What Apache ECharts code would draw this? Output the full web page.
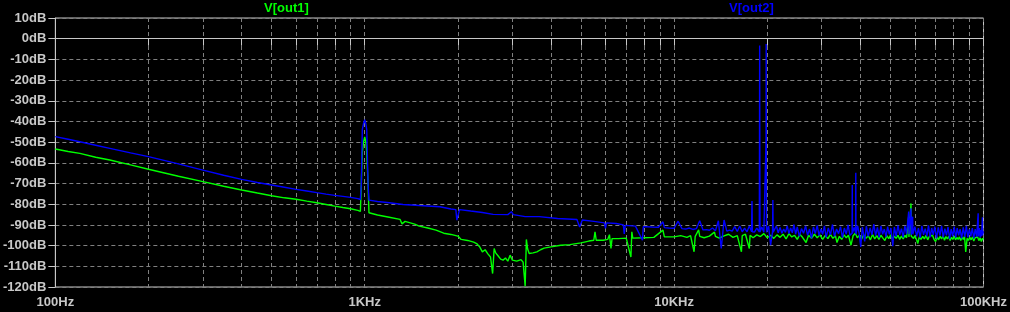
<!DOCTYPE html>
<html><head><meta charset="utf-8">
<script src="https://cdn.jsdelivr.net/npm/echarts@6/dist/echarts.min.js"></script>
<style>html,body{margin:0;padding:0;background:#000;}#c{width:1010px;height:312px;}</style>
</head><body><div id="c"></div>
<script>
const seriesNames = ['V[out1]', 'V[out2]'];
const xTickValues = [100, 1000, 10000, 100000];
const xTickLabels = ['100Hz', '1KHz', '10KHz', '100KHz'];
const xGridValues = [100,200,300,400,500,600,700,800,900,1000,2000,3000,4000,5000,6000,7000,8000,9000,10000,20000,30000,40000,50000,60000,70000,80000,90000,100000];

// V[out1] (green), 100 Hz .. 9.3 kHz
const freqOut1Low = [100,110,120,135,150,175,200,250,300,350,400,450,500,550,600,650,700,750,800,850,900,950,968,975,982,991,1000,1008,1015,1025,1032,1100,1200,1300,1320,1350,1450,1500,1600,1700,1800,1900,2000,2050,2150,2250,2300,2350,2400,2450,2500,2550,2590,2620,2650,2700,2750,2800,2850,2900,2950,3000,3100,3200,3250,3280,3300,3330,3360,3400,3500,3600,3700,3800,4000,4300,4600,5000,5300,5500,5550,5600,5900,6100,6180,6250,6300,6600,7000,7250,7300,7350,8000,8600,9200,9300];
const dbOut1Low = [-53.3,-54.5,-55.4,-57.3,-58.6,-61,-63.1,-66.5,-69.1,-71.3,-73.1,-74.6,-75.9,-76.9,-77.6,-78.5,-79.3,-80.1,-80.9,-81.6,-82.2,-83,-83.5,-70,-55,-50,-47.5,-50,-55,-70,-84.1,-85.2,-86.3,-87.3,-89.5,-88.3,-89.6,-90.6,-91.5,-92.5,-94,-94.6,-95.4,-97,-97.5,-98.3,-99,-100.5,-103,-102,-104,-105.5,-113.5,-101.4,-103.5,-105,-106.5,-107,-106,-107.5,-104.6,-107,-107.5,-106.8,-108,-108.2,-119.6,-97,-101.5,-103.8,-103.5,-103,-102,-101.2,-100.6,-99.8,-99.5,-98.7,-97.8,-97.4,-93.3,-97.4,-97.4,-97,-94.7,-101.4,-96.6,-96.6,-96.4,-105.5,-93.3,-96.4,-96.2,-96,-92.5,-95.8];
// V[out1] (green), 10 kHz .. 100 kHz
const freqOut1High = [
  10000,10500,11000,11300,11600,11700,12000,12100,12500,13000,
  13500,13600,14000,14500,15000,15500,16000,16500,16600,17000,
  17500,17600,18000,18500,19000,19500,20000,20500,21000,21500,
  22000,22500,23000,23500,24000,24500,25000,25500,26000,26700,
  27200,27800,28400,29000,29600,30200,30800,31400,32000,32600,
  33200,33600,34200,34800,35400,36000,36600,37300,37900,38500,
  39100,39700,40300,41000,41700,42400,43100,43800,44500,45200,
  45900,46600,47300,48000,48700,49400,50100,50800,51500,52200,
  52900,53600,54300,55000,55700,56400,57200,57300,57400,57800,
  58200,58300,58400,58800,
  59400,60000,60700,61300,62000,62800,63600,64400,65200,66000,
  66800,67600,68400,69200,70000,70800,71600,72400,73200,74000,
  74800,75600,76400,77200,78000,78800,79600,80400,81200,82000,
  82800,83600,84400,85200,86000,86800,87600,88500,89400,90300,
  91200,92100,93000,93900,94800,95700,96600,97500,98400,99300,
  100000];
const dbOut1High = [
  -95.8,-95.2,-96,-95.2,-103,-95.5,-92.4,-95.5,-96.2,-95.4,
  -93.5,-95.5,-96.4,-95.3,-94.5,-96,-95.2,-103,-95.2,-94.5,
  -101.4,-95,-96.2,-94.8,-95.6,-94.2,-96.2,-95,-96.5,-94.8,
  -96,-94.5,-96.8,-94.2,-95.8,-95,-97,-94.6,-96,-98.5,
  -95,-96.5,-94.5,-96.2,-94.8,-97,-95,-96.6,-94.6,-96.5,
  -95.2,-98.5,-95.5,-97,-94.8,-96.2,-95,-99.8,-95.2,-94,
  -96.2,-95,-97,-94.8,-96.5,-95.2,-97.2,-94.6,-96.8,-95.2,
  -97,-95,-96.4,-97.5,-95.2,-96.6,-94.8,-97,-95.5,-96.5,
  -95,-97,-95.4,-96.8,-95,-96.2,-95.5,-86,-95.8,-95,
  -95.5,-79.6,-95.5,-95,
  -96.5,-95.2,-97,-99,-95.8,-97,-95.5,-96.8,-95,-97.2,
  -95.6,-96.5,-95,-97,-98,-95.8,-97.2,-95.5,-96.8,-95.2,
  -97.4,-95.6,-96.8,-95.5,-97.5,-96,-97,-95.4,-97.2,-96,
  -97,-95.8,-97.5,-96,-97,-95.5,-103,-96.5,-97.5,-96,
  -97.2,-95.8,-97.8,-96.2,-97,-95.8,-97.6,-96.2,-98,-96.5,
  -97];

// V[out2] (blue), 100 Hz .. 9.6 kHz
const freqOut2Low = [100,110,120,135,150,175,200,250,300,350,400,450,500,550,600,650,700,750,800,850,900,950,968,975,982,991,1000,1008,1015,1025,1032,1100,1200,1330,1500,1750,1900,1970,1985,2010,2025,2200,2400,2600,2900,2980,3020,3300,3660,4200,4850,4950,5050,5500,5950,6000,6050,6500,6850,6900,6950,7500,7900,7950,8500,8900,9200,9300,9600];
const dbOut2Low = [-47.3,-48.6,-49.8,-51.5,-53,-55.2,-57,-60.5,-63.5,-66,-68,-69.5,-70.7,-71.8,-72.8,-73.6,-74.4,-75.1,-75.7,-76.2,-76.7,-77.3,-77.7,-70,-44,-41,-39.2,-41,-44,-70,-78,-78.7,-79.3,-80.1,-80.6,-81.2,-82.3,-82.6,-87.7,-87.7,-82.6,-83.3,-84,-84.9,-85,-83.6,-85,-86,-86,-86.9,-87.4,-91,-87.6,-88.3,-89,-91.7,-89,-89.3,-90,-94.4,-90.2,-90.6,-97.4,-90.8,-91,-91.1,-88.5,-91.3,-91.5];
// V[out2] (blue), 10 kHz .. 100 kHz
const freqOut2High = [
  10000,10300,10600,10900,11200,11500,11800,12100,12400,12700,
  13000,13300,13600,13900,14200,14500,14800,15100,15400,15700,
  16000,16300,16600,16900,17200,17500,17800,17850,17900,18200,
  18500,18850,18880,18900,18920,18950,19200,19500,19790,19820,
  19840,19860,19890,20200,20500,20800,20850,20900,21100,21400,
  21700,22000,22300,22600,
  22900,23200,23500,23800,24100,24400,24700,25000,25400,25800,
  26200,26600,27000,27400,27800,28200,28600,29000,29400,29800,
  30200,30600,31000,31500,32000,32500,33000,33500,34000,34500,
  35000,35500,36000,36500,37000,37600,37650,37700,38200,38600,
  38650,38700,39200,39700,40100,40600,41300,41800,42400,43000,
  43600,44200,44800,45400,46000,46600,47200,47800,48400,49000,
  49600,50200,50900,51500,52200,52900,53600,54300,55000,55700,
  56400,57200,57300,57400,58200,58300,58400,58900,59000,59100,
  60000,60800,61600,62400,63200,
  64000,64800,65600,66400,67200,68000,68800,69600,70500,71400,
  72300,73200,74100,75000,75900,76800,77700,78600,79500,80400,
  81300,82200,83100,84000,85000,86000,87000,88000,89000,90000,
  91000,92000,93000,94000,95000,96000,96100,96200,97000,97500,
  98000,98500,99100,99200,99300,100000];
const dbOut2High = [
  -91.6,-88.2,-91.8,-92,-91.5,-92.2,-91.8,-88,-92.4,-92.3,
  -92.6,-91.5,-92.8,-88,-101.4,-87.6,-93,-92.5,-93,-90.8,
  -93.2,-90.5,-93.3,-91.5,-93.3,-90.5,-93.3,-78.5,-93.3,-93.4,
  -91.5,-93.4,-48.6,-3.3,-48.6,-93.4,-91,-93.5,-93.5,-48.6,
  -2.6,-48.6,-93.5,-90.5,-99.8,-93.5,-78,-93.5,-93.5,-90.5,
  -93.8,-91.2,-94,-92,
  -93.6,-90.5,-94.2,-91.5,-93.8,-89.8,-94.5,-91,-95.5,-91.8,
  -94,-90.5,-95,-92,-96.5,-91,-94.2,-90.2,-95.2,-92,
  -94.5,-90.5,-96,-91.5,-94.8,-89.8,-95.5,-92,-94.2,-90.8,
  -96.2,-91.5,-94.5,-90,-95,-94,-70.7,-94,-91.2,-94,
  -64.8,-94.5,-90.5,-94.8,-100.6,-91,-98,-90.5,-95.5,-91.5,
  -94.8,-89.6,-95.2,-91.2,-96,-90.5,-94.5,-92,-95.8,-90.8,
  -94.6,-91.5,-100.3,-91,-95.5,-90.2,-94.8,-91.8,-96,-90.5,
  -94.5,-94.5,-83.5,-94.5,-94.6,-82,-94.8,-94.5,-86,-94.5,
  -90.8,-95.5,-91.5,-96.2,-90.5,
  -94.8,-91.8,-95.5,-90.2,-96,-91.5,-94.8,-90.8,-96.5,-91.2,
  -95.2,-90.5,-96,-91.8,-95,-91,-96.8,-92,-95.5,-90.8,
  -96.2,-91.5,-95,-92,-96.5,-91.2,-95.8,-90.5,-96,-92.2,
  -95.5,-91.5,-96.5,-92,-95.8,-95.5,-84.4,-95.5,-91.5,-96,
  -92.5,-95.5,-95,-86.3,-95,-93];

const zip = (f, v) => f.map((x, i) => [x, v[i]]);
const dataOut1 = zip(freqOut1Low, dbOut1Low).concat(zip(freqOut1High, dbOut1High));
const dataOut2 = zip(freqOut2Low, dbOut2Low).concat(zip(freqOut2High, dbOut2High));

const gray = '#c8c8c8';
const chart = echarts.init(document.getElementById('c'), null, {renderer: 'canvas'});
const labelFont = {color: gray, fontFamily: 'Liberation Sans', fontWeight: 'bold', fontSize: 13};
chart.setOption({
  animation: false,
  backgroundColor: '#000',
  grid: {left: 54, right: 25, top: 18, bottom: 25, show: true, borderColor: gray, borderWidth: 1, backgroundColor: '#000'},
  graphic: [
    {type: 'text', left: 264, top: 2, style: {text: seriesNames[0], fill: '#00ff00', font: 'bold 13px "Liberation Sans"'}},
    {type: 'text', left: 729, top: 2, style: {text: seriesNames[1], fill: '#0000ff', font: 'bold 13px "Liberation Sans"'}}
  ],
  xAxis: {
    type: 'log', logBase: 10, min: 100, max: 100000,
    axisLine: {show: true, lineStyle: {color: gray}},
    axisTick: {show: true, length: 7, lineStyle: {color: gray}, customValues: xGridValues},
    axisLabel: Object.assign({margin: 9, customValues: xTickValues, formatter: v => xTickLabels[xTickValues.indexOf(v)] ?? ''}, labelFont),
    splitLine: {show: true, lineStyle: {color: '#808080', type: [4, 3], width: 1}},
    minorTick: {show: false}, minorSplitLine: {show: false}
  },
  yAxis: {
    type: 'value', min: -120, max: 10, interval: 10,
    axisLine: {show: true, lineStyle: {color: gray}},
    axisTick: {show: true, length: 7, lineStyle: {color: gray}},
    axisLabel: Object.assign({margin: 9, formatter: v => v + 'dB'}, labelFont),
    splitLine: {show: true, lineStyle: {color: '#808080', type: [4, 3], width: 1}}
  },
  series: [
    {name: seriesNames[0], type: 'line', data: dataOut1, showSymbol: false, symbol: 'none', lineStyle: {color: '#00ff00', width: 1.4}, itemStyle: {color: '#00ff00'}, sampling: null, z: 2},
    {name: seriesNames[1], type: 'line', data: dataOut2, showSymbol: false, symbol: 'none', lineStyle: {color: '#0000ff', width: 1.4}, itemStyle: {color: '#0000ff'}, sampling: null, z: 3}
  ]
});
</script></body></html>
